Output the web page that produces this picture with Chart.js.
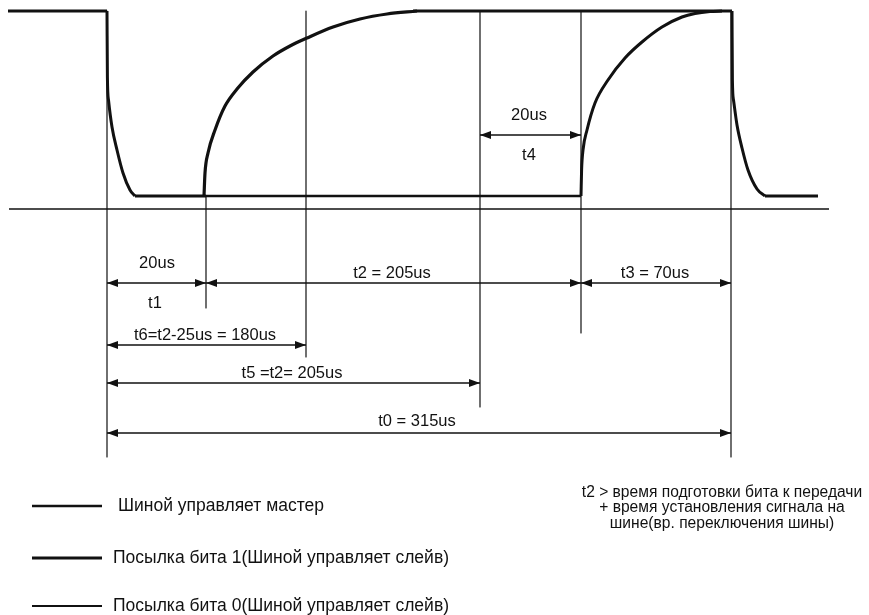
<!DOCTYPE html>
<html>
<head>
<meta charset="utf-8">
<script src="https://cdn.jsdelivr.net/npm/chart.js@4/dist/chart.umd.min.js"></script>
<style>
html, body { margin: 0; padding: 0; background: #fff; }
#wrap { width: 869px; height: 615px; position: relative; }
</style>
</head>
<body>
<div id="wrap"><canvas id="chart"></canvas></div>
<script>
// diagram units: x runs left->right along the time axis, y runs top->down (0 = top)
const HIGH = 11;
const LOW = 196;
const AXIS = 209;

// master pulls the bus low
const fall1X = [107, 107.4, 108.5, 112, 117, 123, 130, 135];
const fall1Y = [HIGH, 77, 100, 127, 150, 173, 190, LOW];
// slave sends 1: line released after t1
const rise1X = [204, 205, 208, 215, 225, 237, 253, 273, 290, 307, 333, 360, 387, 417];
const rise1Y = [LOW, 173, 153, 130, 106, 89, 72, 56, 46, 38, 27, 19, 14, HIGH];
// slave sends 0: line released after t2
const rise0X = [581, 581.6, 583, 587, 595, 608, 625, 642, 662, 682, 695, 710, 722];
const rise0Y = [LOW, 170, 150, 130, 103, 80, 58, 42, 27, 17, 13.5, 11.5, HIGH];
// master pulls low again for the next slot
const fall2X = [732, 732.4, 733.5, 737, 742, 748, 757, 765];
const fall2Y = [HIGH, 80, 100, 125, 148, 170, 189, LOW];

// time marks (vertical guide lines): x, top, bottom
const markX = [107, 206, 306, 480, 581, 731];
const markTop = [HIGH, LOW, HIGH, HIGH, HIGH, HIGH];
const markBottom = [457, 308, 357, 407, 333, 457];

// dimension arrows: from mark, to mark, row, label above, label below
const dimFrom = [0, 1, 4, 0, 0, 0, 3];
const dimTo = [1, 4, 5, 2, 3, 5, 4];
const dimRow = [283, 283, 283, 345, 383, 433, 135];
const dimLabel = ['20us', 't2 = 205us', 't3 = 70us', 't6=t2-25us = 180us', 't5 =t2= 205us', 't0 = 315us', '20us'];
const dimLabelX = [157, 392, 655, 205, 292, 417, 529];
const dimLabelRow = [263, 273, 273, 335, 373, 421, 115];
const subLabel = ['t1', 't4'];
const subLabelX = [155, 529];
const subLabelRow = [303, 155];

const legendText = ['Шиной управляет мастер', 'Посылка бита 1(Шиной управляет слейв)', 'Посылка бита 0(Шиной управляет слейв)'];
const legendRow = [506, 558, 606];
const noteText = ['t2 > время подготовки бита к передачи', '+ время установления сигнала на', 'шине(вр. переключения шины)'];
const noteRow = [493, 508, 524];

const INK = '#111';

function pts(xs, ys) {
  return xs.map((x, i) => ({ x: x, y: ys[i] }));
}

function line(data, width, smooth) {
  return {
    data: data,
    showLine: true,
    borderColor: INK,
    borderWidth: width,
    pointRadius: 0,
    tension: smooth ? 0.4 : 0,
    cubicInterpolationMode: smooth ? 'monotone' : 'default',
    borderCapStyle: 'butt',
    borderJoinStyle: 'round'
  };
}

const datasets = [];
// waveform
datasets.push(line([{ x: 8, y: HIGH }, { x: 107, y: HIGH }], 3));
datasets.push(line(pts(fall1X, fall1Y), 3, true));
datasets.push(line([{ x: 135, y: LOW }, { x: 206, y: LOW }], 3));
datasets.push(line(pts(rise1X, rise1Y), 3.2, true));
datasets.push(line([{ x: 413, y: HIGH }, { x: 732, y: HIGH }], 3));
datasets.push(line([{ x: 206, y: LOW }, { x: 581, y: LOW }], 2.5));
datasets.push(line(pts(rise0X, rise0Y), 3, true));
datasets.push(line(pts(fall2X, fall2Y), 3, true));
datasets.push(line([{ x: 765, y: LOW }, { x: 818, y: LOW }], 3));
// time axis
datasets.push(line([{ x: 9, y: AXIS }, { x: 829, y: AXIS }], 1.5));
// guide lines
markX.forEach((x, i) => {
  datasets.push(line([{ x: x, y: markTop[i] }, { x: x, y: markBottom[i] }], 1.2));
});
// dimension lines
dimFrom.forEach((f, i) => {
  datasets.push(line([{ x: markX[f], y: dimRow[i] }, { x: markX[dimTo[i]], y: dimRow[i] }], 1.6));
});

const annotations = {
  id: 'annotations',
  afterDatasetsDraw(chart) {
    const ctx = chart.ctx;
    const xs = chart.scales.x;
    const ys = chart.scales.y;
    ctx.save();
    ctx.fillStyle = INK;
    ctx.strokeStyle = INK;

    function head(px, py, dir) {
      ctx.beginPath();
      ctx.moveTo(px, py);
      ctx.lineTo(px - dir * 11, py - 4);
      ctx.lineTo(px - dir * 11, py + 4);
      ctx.closePath();
      ctx.fill();
    }
    dimFrom.forEach((f, i) => {
      const y = ys.getPixelForValue(dimRow[i]);
      head(xs.getPixelForValue(markX[f]), y, -1);
      head(xs.getPixelForValue(markX[dimTo[i]]), y, 1);
    });

    ctx.textAlign = 'center';
    ctx.textBaseline = 'middle';
    ctx.font = '16.5px "Liberation Sans", Arial, sans-serif';
    dimLabel.forEach((t, i) => {
      ctx.fillText(t, xs.getPixelForValue(dimLabelX[i]), ys.getPixelForValue(dimLabelRow[i]));
    });
    subLabel.forEach((t, i) => {
      ctx.fillText(t, xs.getPixelForValue(subLabelX[i]), ys.getPixelForValue(subLabelRow[i]));
    });

    // legend
    const widths = [2.5, 3, 2];
    legendText.forEach((t, i) => {
      const y = ys.getPixelForValue(legendRow[i]);
      ctx.lineWidth = widths[i];
      ctx.beginPath();
      ctx.moveTo(xs.getPixelForValue(32), y);
      ctx.lineTo(xs.getPixelForValue(102), y);
      ctx.stroke();
      ctx.textAlign = 'left';
      ctx.font = '17.5px "Liberation Sans", Arial, sans-serif';
      ctx.fillText(t, xs.getPixelForValue(i === 0 ? 118 : 113), y);
    });

    ctx.textAlign = 'center';
    ctx.font = '15.6px "Liberation Sans", Arial, sans-serif';
    noteText.forEach((t, i) => {
      ctx.fillText(t, xs.getPixelForValue(722), ys.getPixelForValue(noteRow[i]));
    });
    ctx.restore();
  }
};

new Chart(document.getElementById('chart'), {
  type: 'scatter',
  data: { datasets: datasets },
  options: {
    responsive: true,
    maintainAspectRatio: false,
    animation: false,
    layout: { padding: 0 },
    plugins: { legend: { display: false }, tooltip: { enabled: false } },
    scales: {
      x: { type: 'linear', min: 0, max: 869, display: false },
      y: { type: 'linear', min: 0, max: 615, reverse: true, display: false }
    }
  },
  plugins: [annotations]
});
</script>
</body>
</html>
